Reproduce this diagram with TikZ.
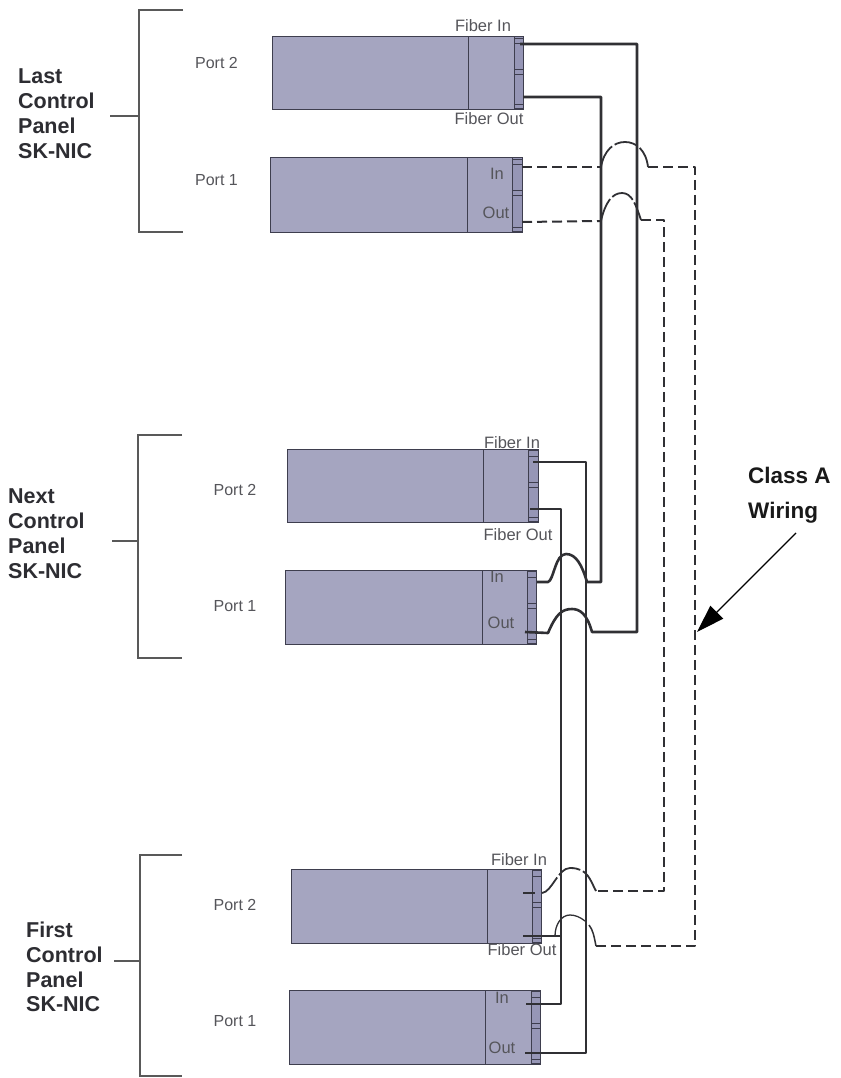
\documentclass[tikz,border=0pt]{standalone}
\usepackage{fontspec}
\setmainfont{Liberation Sans}
\usetikzlibrary{arrows.meta}
\definecolor{panelfill}{RGB}{165,165,192}
\definecolor{stripfill}{RGB}{150,150,182}
\definecolor{edgec}{RGB}{62,62,78}
\definecolor{wirec}{RGB}{48,48,52}
\definecolor{labelc}{RGB}{85,85,90}
\definecolor{headc}{RGB}{45,45,50}
\tikzset{
  x=1pt,y=-1pt,
  panel/.style={draw=edgec,line width=1pt,fill=panelfill},
  stripbar/.style={draw=edgec,line width=1pt,fill=stripfill},
  wire/.style={draw=wirec,line width=2.6pt,line join=round},
  thinwire/.style={draw=wirec,line width=2pt,line join=round},
  dashwire/.style={draw=wirec,line width=2pt,dash pattern=on 10pt off 5pt,line join=round},
  archdash/.style={draw=wirec,line width=1.8pt,dash pattern=on 24pt off 3pt},
  brack/.style={draw=black!65,line width=1.2pt},
  plabel/.style={font=\fontsize{16}{17}\selectfont,text=labelc,inner sep=0pt},
  flabel/.style={font=\fontsize{16.5}{17}\selectfont,text=labelc,inner sep=0pt},
  head/.style={font=\bfseries\fontsize{21.5}{24.7}\selectfont,text=headc,align=left,inner sep=0pt,anchor=north west},
  headb/.style={font=\bfseries\fontsize{22.5}{25}\selectfont,text=black!90,inner sep=0pt,anchor=north west},
}
% #1 name, #2 left, #3 top, #4 divider, #5 strip left, #6 right, #7 bottom
\newcommand{\nicblock}[7]{%
  \path[panel] (#2,#3) rectangle (#6,#7);
  \draw[edgec,line width=1pt] (#4,#3) -- (#4,#7);
  \path[stripbar] (#5,#3) rectangle (#6,#7);
  \draw[edgec,line width=1pt] (#5,#3+1.5) -- (#6,#3+1.5) (#5,#3+7) -- (#6,#3+7)
     (#5,#3+33) -- (#6,#3+33) (#5,#3+38) -- (#6,#3+38)
     (#5,#7-5) -- (#6,#7-5) (#5,#7-1) -- (#6,#7-1);
  \coordinate (#1) at (#6,#3);
}
\begin{document}
\begin{tikzpicture}
\useasboundingbox (0,0) rectangle (840,1078);
% panels
\nicblock{lp}{272}{37}{468}{514}{523}{110}
\nicblock{lo}{270}{158}{467}{512}{522}{232}
\nicblock{np}{287}{449}{483}{528}{538}{522}
\nicblock{no}{285}{570}{482}{527}{536}{644}
\nicblock{fp}{291}{869}{487}{532}{541}{943}
\nicblock{fo}{289}{990}{485}{531}{540}{1064}
% brackets
\coordinate (b1a) at (183,10); \coordinate (b1b) at (139,10); \coordinate (b1c) at (139,232); \coordinate (b1d) at (183,232);
\coordinate (b1t) at (110,116); \coordinate (b1u) at (139,116);
\draw[brack] (b1a) -- (b1b) -- (b1c) -- (b1d) (b1t) -- (b1u);
\coordinate (b2a) at (182,435); \coordinate (b2b) at (138,435); \coordinate (b2c) at (138,658); \coordinate (b2d) at (182,658);
\coordinate (b2t) at (112,541); \coordinate (b2u) at (138,541);
\draw[brack] (b2a) -- (b2b) -- (b2c) -- (b2d) (b2t) -- (b2u);
\coordinate (b3a) at (182,855); \coordinate (b3b) at (140,855); \coordinate (b3c) at (140,1076); \coordinate (b3d) at (182,1076);
\coordinate (b3t) at (114,961); \coordinate (b3u) at (140,961);
\draw[brack] (b3a) -- (b3b) -- (b3c) -- (b3d) (b3t) -- (b3u);
% solid wires
\coordinate (w1s) at (520,44); \coordinate (w1a) at (637,44); \coordinate (w1b) at (637,632); \coordinate (w1c) at (592,632);
\coordinate (w1d) at (572,609); \coordinate (w1e) at (548,633); \coordinate (w1f) at (525,632);
\draw[wire] (w1s) -- (w1a) -- (w1b) -- (w1c) .. controls (587,614) and (580,609) .. (w1d) .. controls (562,609) and (556,614) .. (w1e) -- (w1f);
\coordinate (w2s) at (523,97); \coordinate (w2a) at (601,97); \coordinate (w2b) at (601,582); \coordinate (w2c) at (587,582);
\coordinate (w2d) at (566,554); \coordinate (w2e) at (548,582); \coordinate (w2f) at (537,582);
\draw[wire] (w2s) -- (w2a) -- (w2b) -- (w2c) .. controls (582,565) and (576,554) .. (w2d) .. controls (555,554) and (554,580) .. (w2e) -- (w2f);
\coordinate (w3s) at (533,462); \coordinate (w3a) at (586,462); \coordinate (w3b) at (586,1053); \coordinate (w3c) at (525,1053);
\draw[thinwire] (w3s) -- (w3a) -- (w3b) -- (w3c);
\coordinate (w4s) at (530,509); \coordinate (w4a) at (561,509); \coordinate (w4b) at (561,1004); \coordinate (w4c) at (526,1004);
\draw[thinwire] (w4s) -- (w4a) -- (w4b) -- (w4c);
% stubs in first panel
\coordinate (s1a) at (523,893); \coordinate (s1b) at (535,893);
\coordinate (s2a) at (523,936); \coordinate (s2b) at (561,936);
\draw[thinwire] (s1a) -- (s1b) (s2a) -- (s2b);
% dashed wires
\coordinate (d1s) at (522,167); \coordinate (d1a) at (601,167); \coordinate (d1p) at (625,142); \coordinate (d1b) at (648,167);
\coordinate (d1c) at (695,167); \coordinate (d1d) at (695,946); \coordinate (d1e) at (596,946); \coordinate (d1q) at (570,915); \coordinate (d1f) at (555,936);
\draw[dashwire] (d1s) -- (d1a);
\draw[archdash] (d1a) .. controls (604,150) and (614,142) .. (d1p) .. controls (636,142) and (646,150) .. (d1b);
\draw[dashwire] (d1b) -- (d1c) -- (d1d) -- (d1e);
\draw[draw=wirec,line width=1.5pt] (d1e) .. controls (594,936) and (593,930) .. (589,925);
\draw[draw=wirec,line width=1.3pt] (585,921) .. controls (580,917) and (575,915) .. (d1q) .. controls (561,915) and (555,925) .. (d1f);
\coordinate (d2s) at (522,222); \coordinate (d2a) at (601,221); \coordinate (d2p) at (622,193); \coordinate (d2b) at (641,220);
\coordinate (d2c) at (664,220); \coordinate (d2d) at (664,891); \coordinate (d2e) at (596,891); \coordinate (d2q) at (570,868); \coordinate (d2f) at (542,893);
\draw[dashwire] (d2s) -- (d2a);
\draw[archdash] (d2a) .. controls (605,203) and (612,193) .. (d2p) .. controls (632,193) and (636,205) .. (d2b);
\draw[dashwire] (d2b) -- (d2c) -- (d2d) -- (d2e);
\draw[archdash] (d2e) .. controls (590,880) and (588,868) .. (d2q) .. controls (558,868) and (552,892) .. (d2f);
% arrow
\coordinate (arS) at (796,533); \coordinate (arE) at (697,632);
\draw[black,line width=1.1pt,-{Triangle[length=28pt,width=18pt]}] (arS) -- (arE);
% labels
\node[plabel] (t1) at (216.5,63) {Port 2};
\node[plabel] (t2) at (216.5,180) {Port 1};
\node[plabel] (t3) at (235,490) {Port 2};
\node[plabel] (t4) at (235,606) {Port 1};
\node[plabel] (t5) at (235,905) {Port 2};
\node[plabel] (t6) at (235,1021) {Port 1};
\node[flabel] (f1) at (483,26) {Fiber In};
\node[flabel] (f2) at (489,119) {Fiber Out};
\node[flabel] (f3) at (512,443) {Fiber In};
\node[flabel] (f4) at (518,535) {Fiber Out};
\node[flabel] (f5) at (519,860) {Fiber In};
\node[flabel] (f6) at (522,950) {Fiber Out};
\node[flabel] (i1) at (497,174) {In};
\node[flabel] (o1) at (496,213) {Out};
\node[flabel] (i2) at (497,577) {In};
\node[flabel] (o2) at (501,623) {Out};
\node[flabel] (i3) at (502,998) {In};
\node[flabel] (o3) at (502,1048) {Out};
\node[head] (h1) at (18,69) {Last\\Control\\Panel\\SK-NIC};
\node[head] (h2) at (8,489) {Next\\Control\\Panel\\SK-NIC};
\node[head] (h3) at (26,922) {First\\Control\\Panel\\SK-NIC};
\node[headb] (h4) at (748,467) {Class A};
\node[headb] (h5) at (748,502) {Wiring};
\end{tikzpicture}
\end{document}
